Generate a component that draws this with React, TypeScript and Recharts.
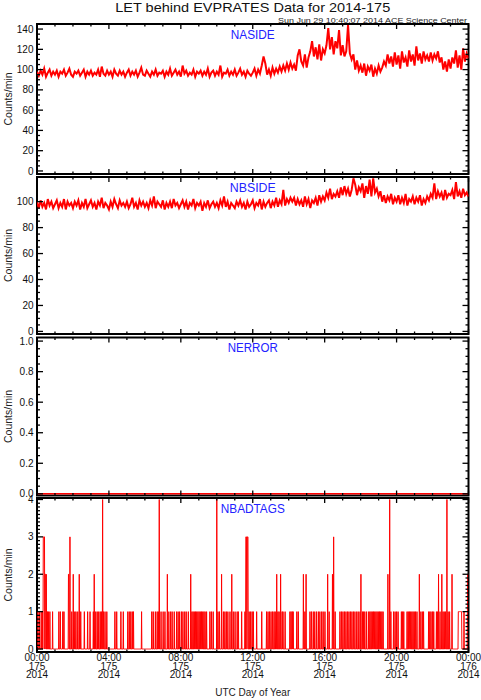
import React from 'react';
import { LineChart, Line, XAxis, YAxis, ReferenceArea } from 'recharts';

const W = 481;
const H = 700;
const PLOT_LEFT = 37;
const PLOT_RIGHT = 468.5;
const FONT = '"Liberation Sans", Arial, Helvetica, sans-serif';
const RED = '#ff0000';
const BLUE = '#2222ff';

// ---- x axis (minutes of day) ----
const hourTicks = [0, 60, 120, 180, 240, 300, 360, 420, 480, 540, 600, 660, 720, 780, 840, 900, 960, 1020, 1080, 1140, 1200, 1260, 1320, 1380, 1440];
const majorTimeTicks = [0, 240, 480, 720, 960, 1200, 1440];
const timeLabels = ['00:00', '04:00', '08:00', '12:00', '16:00', '20:00', '00:00'];
const dayLabels = ['175', '175', '175', '175', '175', '175', '176'];
const yearLabels = ['2014', '2014', '2014', '2014', '2014', '2014', '2014'];

// ---- NASIDE, one value every 6 minutes ----
const nasideValues = [
  98, 94, 99, 95, 101, 93, 97, 100, 94, 98,
  95, 99, 93, 98, 96, 100, 94, 97, 101, 95,
  93, 98, 96, 99, 94, 97, 100, 93, 98, 95,
  99, 94, 97, 95, 100, 93, 103, 96, 94, 99,
  95, 98, 93, 100, 96, 94, 99, 95, 98, 93,
  97, 100, 94, 98, 95, 99, 93, 97, 102, 95,
  94, 99, 96, 93, 98, 95, 100, 94, 97, 96,
  99, 93, 98, 95, 101, 94, 97, 100, 95, 98,
  93, 104, 96, 99, 94, 97, 95, 100, 93, 98,
  96, 99, 94, 98, 95, 101, 93, 97, 99, 94,
  98, 95, 104, 93, 97, 96, 100, 94, 98, 95,
  100, 94, 97, 101, 95, 98, 93, 99, 96, 94,
  97, 101, 94, 100, 96, 104, 113, 106, 95, 100,
  94, 102, 96, 101, 97, 103, 98, 104, 99, 106,
  100, 107, 101, 105, 99, 114, 120, 108, 104, 115,
  102, 112, 118, 128, 113, 122, 110, 125, 109, 120,
  116, 124, 141, 120, 132, 115, 128, 121, 139, 114,
  124, 113, 118, 144, 116, 110, 115, 100, 109, 99,
  104, 97, 106, 94, 103, 99, 105, 93, 101, 96,
  104, 98, 102, 108, 104, 115, 106, 113, 103, 117,
  105, 114, 101, 118, 107, 112, 103, 119, 108, 115,
  104, 123, 109, 116, 106, 118, 110, 114, 108, 117,
  109, 115, 111, 118, 107, 112, 100, 108, 98, 110,
  101, 112, 106, 119, 102, 114, 100, 121, 108, 116,
  111,
];

// ---- NBSIDE, one value every 6 minutes ----
const nbsideValues = [
  100, 95, 101, 96, 99, 94, 102, 97, 100, 95,
  98, 101, 95, 99, 96, 102, 94, 100, 97, 99,
  95, 100, 97, 101, 94, 99, 96, 102, 95, 98,
  101, 96, 99, 94, 100, 97, 103, 95, 99, 97,
  94, 100, 96, 102, 98, 95, 101, 97, 99, 96,
  100, 95, 98, 103, 96, 99, 94, 101, 97, 100,
  96, 99, 95, 101, 97, 104, 95, 100, 98, 96,
  101, 94, 99, 96, 100, 95, 102, 97, 99, 95,
  98, 101, 96, 100, 94, 99, 97, 102, 95, 99,
  97, 100, 93, 99, 96, 101, 95, 98, 100, 96,
  99, 95, 101, 97, 104, 96, 100, 94, 99, 97,
  95, 100, 97, 101, 96, 99, 94, 100, 96, 98,
  101, 95, 99, 97, 102, 94, 100, 96, 99, 101,
  95, 100, 97, 103, 96, 101, 98, 109, 97, 102,
  99, 103, 100, 103, 97, 102, 98, 101, 96, 104,
  98, 102, 95, 101, 99, 103, 97, 105, 100, 104,
  101, 107, 103, 110, 102, 106, 104, 108, 103, 111,
  105, 112, 106, 110, 104, 109, 118, 113, 105, 111,
  108, 114, 103, 112, 106, 117, 104, 118, 107, 110,
  104, 108, 100, 105, 99, 104, 101, 106, 98, 103,
  100, 105, 98, 103, 99, 106, 97, 102, 100, 104,
  98, 103, 100, 105, 97, 102, 99, 104, 101, 106,
  103, 114, 102, 108, 104, 107, 101, 109, 103, 106,
  105, 109, 102, 115, 104, 108, 103, 110, 105, 107,
  104,
];

// ---- NERROR, hourly (all zero) ----
const nerrorValues = [0, 0, 0, 0, 0, 0, 0, 0, 0, 0, 0, 0, 0, 0, 0, 0, 0, 0, 0, 0, 0, 0, 0, 0, 0];

// ---- NBADTAGS: minutes with non-zero counts [minute, count]; all other minutes are 0 ----
const nbadtagsEvents: [number, number][] = [
  [3, 1], [8, 1], [14, 1], [18, 1], [21, 3], [22, 3], [23, 3], [24, 3], [25, 3], [27, 2], [28, 2], [29, 2], [31, 2],
  [35, 1], [38, 1], [43, 1], [52, 1], [73, 1], [78, 1], [86, 1], [90, 1],
  [105, 2], [106, 2], [110, 3], [116, 1], [121, 2], [126, 1], [130, 1], [136, 1], [141, 2], [146, 1],
  [158, 1], [169, 1], [177, 1],
  [188, 1], [191, 2], [196, 1], [201, 1], [206, 1], [211, 1], [215, 1], [219, 4], [222, 1], [227, 1], [233, 1],
  [260, 1], [266, 1], [280, 1], [288, 1], [303, 1], [308, 1], [313, 1], [318, 1], [322, 1], [349, 1],
  [383, 1], [388, 1], [395, 1], [401, 1], [405, 1], [408, 4], [414, 1], [421, 1], [427, 1], [435, 2],
  [440, 1], [446, 1], [451, 1], [458, 1],
  [466, 1], [471, 1], [476, 1], [482, 1], [487, 1], [493, 1], [498, 1], [505, 1], [513, 2],
  [517, 1], [521, 1], [525, 1], [529, 1], [533, 1], [537, 1], [541, 1], [545, 1], [549, 1], [553, 1],
  [557, 1], [561, 1], [566, 1], [577, 1], [582, 1], [588, 1],
  [600, 4], [604, 1], [609, 1], [616, 2], [622, 1], [627, 1], [632, 1], [637, 1], [644, 1], [650, 2],
  [655, 1], [661, 1], [668, 1], [672, 1], [683, 1],
  [694, 1], [697, 3], [698, 3], [699, 3], [702, 3], [703, 3], [704, 3], [708, 1], [713, 1], [718, 1], [722, 1],
  [733, 1], [750, 1],
  [766, 1], [771, 1], [776, 1], [781, 1], [786, 1], [791, 1], [795, 1], [800, 2], [804, 1], [808, 1],
  [813, 2], [818, 1], [821, 1], [828, 1],
  [844, 1], [848, 1], [852, 1], [855, 1], [867, 1], [872, 1], [889, 2], [894, 1], [898, 2],
  [911, 1], [916, 1], [922, 1], [927, 1], [933, 1], [939, 1], [944, 1], [950, 1], [955, 1], [961, 1],
  [970, 2], [975, 1], [986, 2], [990, 3], [995, 1],
  [1011, 1], [1016, 1], [1021, 1], [1026, 1], [1031, 1], [1036, 1], [1041, 1], [1046, 1], [1051, 1],
  [1056, 1], [1061, 1], [1067, 1], [1072, 1], [1078, 1], [1081, 2], [1086, 1], [1090, 1], [1094, 1], [1100, 1],
  [1107, 1], [1111, 1], [1115, 1], [1119, 1], [1123, 1], [1127, 1], [1131, 1], [1135, 1], [1139, 1],
  [1143, 1], [1147, 1], [1151, 1], [1155, 1],
  [1171, 2], [1177, 4], [1181, 1], [1190, 1], [1195, 1], [1200, 1], [1205, 1], [1216, 1], [1220, 1], [1224, 1],
  [1235, 1], [1239, 1], [1243, 1], [1247, 1], [1251, 1], [1255, 1], [1259, 1], [1263, 1], [1268, 1],
  [1276, 2], [1281, 1], [1286, 1], [1290, 1],
  [1307, 1], [1311, 1], [1315, 1], [1320, 1], [1324, 1], [1333, 1], [1337, 1], [1340, 2], [1345, 1],
  [1351, 2], [1355, 1], [1359, 1], [1363, 1], [1368, 4], [1372, 1], [1377, 1], [1385, 2],
  [1406, 1], [1407, 1], [1408, 1], [1409, 1], [1410, 1], [1411, 1], [1412, 1], [1413, 1], [1414, 1],
  [1415, 1], [1416, 1], [1417, 1], [1425, 1], [1437, 2], [1438, 2], [1439, 2], [1440, 2],
];

// ---- y tick labels per panel ----
const nasideYLabels = [0, 20, 40, 60, 80, 100, 120, 140];
const nbsideYLabels = [0, 20, 40, 60, 80, 100];
const nerrorYLabels = [0, 0.2, 0.4, 0.6, 0.8, 1.0];
const nbadtagsYLabels = [0, 1, 2, 3, 4];

// helpers to build tables
const steps = (from: number, to: number, step: number) => {
  const out: number[] = [];
  const n = Math.round((to - from) / step);
  for (let i = 0; i <= n; i++) out.push(Math.round((from + i * step) * 1e6) / 1e6);
  return out;
};

const nasideData = nasideValues.map((v, i) => ({ t: i * 6, v }));
const nbsideData = nbsideValues.map((v, i) => ({ t: i * 6, v }));
const nerrorData = nerrorValues.map((v, i) => ({ t: hourTicks[i], v }));
const badCounts: number[] = new Array(1441).fill(0);
nbadtagsEvents.forEach(([t, v]) => { badCounts[t] = v; });
const nbadtagsData = badCounts.map((v, t) => ({ t, v }));

type Panel = {
  name: string;
  nameWidth: number;
  data: { t: number; v: number }[];
  top: number;
  bottom: number;
  domain: [number, number];
  labels: number[];
  minorStep: number;
  fmt: (v: number) => string;
  strokeWidth: number;
  showX: boolean;
};

const panels: Panel[] = [
  { name: 'NASIDE', nameWidth: 44, data: nasideData, top: 24, bottom: 174, domain: [-3, 145], labels: nasideYLabels, minorStep: 5, fmt: (v) => String(v), strokeWidth: 2, showX: false },
  { name: 'NBSIDE', nameWidth: 46, data: nbsideData, top: 177, bottom: 334, domain: [-2, 119], labels: nbsideYLabels, minorStep: 5, fmt: (v) => String(v), strokeWidth: 2, showX: false },
  { name: 'NERROR', nameWidth: 50, data: nerrorData, top: 337.5, bottom: 495.5, domain: [-0.011, 1.0235], labels: nerrorYLabels, minorStep: 0.05, fmt: (v) => v.toFixed(1), strokeWidth: 1.5, showX: false },
  { name: 'NBADTAGS', nameWidth: 64, data: nbadtagsData, top: 498, bottom: 652, domain: [-0.08, 4.04], labels: nbadtagsYLabels, minorStep: 0.1, fmt: (v) => String(v), strokeWidth: 1, showX: true },
];

const isIn = (list: number[], v: number) => list.some((m) => Math.abs(m - v) < 1e-6);

const makeYTick = (p: Panel) => (props: any) => {
  const y = props.y;
  const v = props.payload.value;
  const major = isIn(p.labels, v);
  const len = major ? 6 : 3;
  return (
    <g>
      <line x1={PLOT_LEFT} x2={PLOT_LEFT + len} y1={y} y2={y} stroke="#000" strokeWidth={1.3} />
      <line x1={PLOT_RIGHT} x2={PLOT_RIGHT - len} y1={y} y2={y} stroke="#000" strokeWidth={1.3} />
      {major && (
        <text x={PLOT_LEFT - 3.5} y={y} dy={3.6} textAnchor="end" fontSize={10} fill="#111" fontFamily={FONT}>
          {p.fmt(v)}
        </text>
      )}
    </g>
  );
};

const makeXTick = (p: Panel) => (props: any) => {
  const x = props.x;
  const v = props.payload.value;
  const idx = majorTimeTicks.indexOf(v);
  const major = idx >= 0;
  const len = major ? 5 : 2.5;
  return (
    <g>
      <line x1={x} x2={x} y1={p.bottom} y2={p.bottom - len} stroke="#000" strokeWidth={1.3} />
      <line x1={x} x2={x} y1={p.top} y2={p.top + len} stroke="#000" strokeWidth={1.3} />
      {p.showX && major && (
        <text textAnchor="middle" fontSize={10} fill="#111" fontFamily={FONT}>
          <tspan x={x} y={661}>{timeLabels[idx]}</tspan>
          <tspan x={x} y={669.5}>{dayLabels[idx]}</tspan>
          <tspan x={x} y={678}>{yearLabels[idx]}</tspan>
        </text>
      )}
    </g>
  );
};

function PanelChart({ p }: { p: Panel }) {
  const yTicks = steps(0, p.labels[p.labels.length - 1], p.minorStep);
  return (
    <div style={{ position: 'absolute', left: 0, top: 0 }}>
      <LineChart
        width={W}
        height={H}
        data={p.data}
        margin={{ top: p.top, bottom: H - p.bottom - 1, left: PLOT_LEFT - 1, right: W - PLOT_RIGHT }}
      >
        <XAxis
          type="number"
          dataKey="t"
          domain={[0, 1440]}
          allowDataOverflow
          ticks={hourTicks}
          interval={0}
          height={1}
          axisLine={false}
          tickLine={false}
          tick={makeXTick(p)}
        />
        <YAxis
          type="number"
          domain={p.domain}
          allowDataOverflow
          ticks={yTicks}
          interval={0}
          width={1}
          axisLine={false}
          tickLine={false}
          tick={makeYTick(p)}
        />
        <Line
          type="linear"
          dataKey="v"
          stroke={RED}
          strokeWidth={p.strokeWidth}
          dot={false}
          isAnimationActive={false}
        />
        <ReferenceArea
          x1={0}
          x2={1440}
          y1={p.domain[0]}
          y2={p.domain[1]}
          fill="none"
          fillOpacity={0}
          stroke="#000"
          strokeWidth={2}
          strokeOpacity={1}
          ifOverflow="visible"
        />
      </LineChart>
    </div>
  );
}

export default function App() {
  const cx = (PLOT_LEFT + PLOT_RIGHT) / 2;
  return (
    <div style={{ position: 'fixed', left: 0, top: 0, width: W, height: H, background: '#fff', overflow: 'hidden' }}>
      {panels.map((p) => (
        <PanelChart key={p.name} p={p} />
      ))}
      <svg width={W} height={H} style={{ position: 'absolute', left: 0, top: 0, pointerEvents: 'none' }}>
        <text x={cx} y={12} textAnchor="middle" fontSize={13} fill="#111" fontFamily={FONT} textLength={275} lengthAdjust="spacingAndGlyphs">
          LET behind EVPRATES Data for 2014-175
        </text>
        <text x={467} y={22.5} textAnchor="end" fontSize={8} fill="#222" fontFamily={FONT} textLength={189} lengthAdjust="spacingAndGlyphs">
          Sun Jun 29 10:40:07 2014 ACE Science Center
        </text>
        {panels.map((p) => (
          <g key={p.name}>
            <text x={cx} y={p.top + 14.5} textAnchor="middle" fontSize={12} fill={BLUE} fontFamily={FONT} textLength={p.nameWidth} lengthAdjust="spacingAndGlyphs">
              {p.name}
            </text>
            <text
              x={0}
              y={0}
              transform={`translate(11.5, ${(p.top + p.bottom) / 2}) rotate(-90)`}
              textAnchor="middle"
              fontSize={10.5}
              fill="#222"
              fontFamily={FONT}
            >
              Counts/min
            </text>
          </g>
        ))}
        <text x={cx} y={696} textAnchor="middle" fontSize={10} fill="#222" fontFamily={FONT}>
          UTC Day of Year
        </text>
      </svg>
    </div>
  );
}
